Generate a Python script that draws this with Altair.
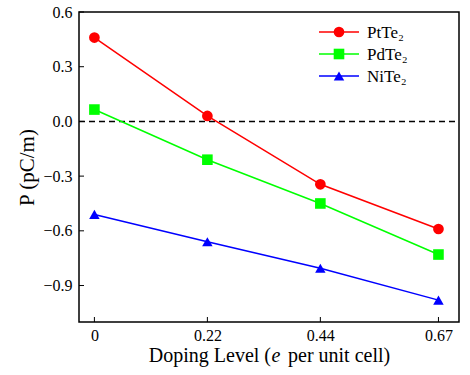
import altair as alt
import pandas as pd

doping = [0, 0.22, 0.44, 0.67]
pt_te2 = [0.46, 0.03, -0.345, -0.59]
pd_te2 = [0.065, -0.21, -0.45, -0.73]
ni_te2 = [-0.51, -0.66, -0.805, -0.98]
series_names = ["PtTe₂", "PdTe₂", "NiTe₂"]
series_colors = ["#ff0000", "#00ff00", "#0000ff"]
series_shapes = ["circle", "square", "triangle-up"]
series_sizes = [115, 110, 210]
y_ticks = [0.6, 0.3, 0.0, -0.3, -0.6, -0.9]
x_ticks = [0, 0.22, 0.44, 0.67]
zero_ref = [0.0]
x_title_parts = ["Doping Level (", "e", "per unit cell)"]

rows = []
for name, vals in zip(series_names, [pt_te2, pd_te2, ni_te2]):
    for x, v in zip(doping, vals):
        rows.append({"doping": x, "P": v, "series": name})
df = pd.DataFrame(rows)

FONT = "Liberation Serif"
W, H = 380, 310

xscale = alt.Scale(domain=[-0.03, 0.71], nice=False, zero=False)
yscale = alt.Scale(domain=[-1.1, 0.6], nice=False, zero=False)
color = alt.Color("series:N", scale=alt.Scale(domain=series_names, range=series_colors), legend=None)
shape = alt.Shape("series:N", scale=alt.Scale(domain=series_names, range=series_shapes), legend=None)
size = alt.Size("series:N", scale=alt.Scale(domain=series_names, range=series_sizes), legend=None)

base = alt.Chart(df)
lines = base.mark_line(strokeWidth=1.5).encode(
    x=alt.X("doping:Q", scale=xscale,
            axis=alt.Axis(values=x_ticks, ticks=False, grid=False, domain=False,
                          labelExpr="datum.value == 0 ? '0' : format(datum.value, '.2f')",
                          labelPadding=5, title=None)),
    y=alt.Y("P:Q", scale=yscale,
            axis=alt.Axis(values=y_ticks, format=".1f", ticks=False, grid=False, domain=False,
                          labelPadding=7, title="P (pC/m)", titlePadding=5, titleFontSize=21)),
    color=color,
    detail="series:N",
)
points = base.mark_point(filled=True, opacity=1).encode(
    x=alt.X("doping:Q", scale=xscale),
    y=alt.Y("P:Q", scale=yscale),
    color=color,
    shape=shape,
    size=size,
)

zero_df = pd.DataFrame({"z": zero_ref})
zero_line = alt.Chart(zero_df).mark_rule(color="black", strokeDash=[6, 4], strokeWidth=1.5).encode(
    y=alt.Y("z:Q", scale=yscale),
    x=alt.value(0), x2=alt.value(W),
)

xt_df = pd.DataFrame({"t": x_ticks})
x_tick_marks = alt.Chart(xt_df).mark_rule(color="black", strokeWidth=1).encode(
    x=alt.X("t:Q", scale=xscale),
    y=alt.value(H - 5), y2=alt.value(H),
)
yt_df = pd.DataFrame({"t": y_ticks})
y_tick_marks = alt.Chart(yt_df).mark_rule(color="black", strokeWidth=1).encode(
    y=alt.Y("t:Q", scale=yscale),
    x=alt.value(0), x2=alt.value(5),
)

leg_df = pd.DataFrame({"series": series_names, "ly": [20, 42, 64]})
leg_base = alt.Chart(leg_df)
leg_lines = leg_base.mark_rule(strokeWidth=1.5).encode(
    x=alt.value(240), x2=alt.value(280),
    y=alt.Y("ly:Q", scale=None),
    color=color,
)
leg_pts = leg_base.mark_point(filled=True, opacity=1).encode(
    x=alt.value(260),
    y=alt.Y("ly:Q", scale=None),
    color=color, shape=shape, size=size,
)
leg_text = leg_base.mark_text(align="left", baseline="middle", font=FONT, fontSize=17, dx=0, dy=1).encode(
    x=alt.value(288),
    y=alt.Y("ly:Q", scale=None),
    text="series:N",
    color=alt.value("black"),
)

# x-axis title with italic e
TY = H + 40
t_df = pd.DataFrame({"t": [0]})
title_a = alt.Chart(t_df).mark_text(align="right", baseline="alphabetic", font=FONT, fontSize=20,
                                    text=x_title_parts[0], color="black").encode(
    x=alt.value(192), y=alt.value(TY))
title_b = alt.Chart(t_df).mark_text(align="center", baseline="alphabetic", font=FONT, fontSize=20,
                                    fontStyle="italic", text=x_title_parts[1], color="black").encode(
    x=alt.value(197), y=alt.value(TY))
title_c = alt.Chart(t_df).mark_text(align="left", baseline="alphabetic", font=FONT, fontSize=20,
                                    text=x_title_parts[2], color="black").encode(
    x=alt.value(209), y=alt.value(TY))

chart = alt.layer(
    zero_line, lines, points, x_tick_marks, y_tick_marks, leg_lines, leg_pts, leg_text,
    title_a, title_b, title_c
).properties(
    width=W, height=H,
    autosize=alt.AutoSizeParams(type="none"),
    padding={"left": 79, "top": 12, "right": 11, "bottom": 53},
    background="white",
).configure_view(
    stroke="black", strokeWidth=1.5
).configure_axis(
    labelFont=FONT, titleFont=FONT, labelFontSize=16, titleFontSize=20,
    labelColor="black", titleColor="black", titleFontWeight="normal",
)

chart.save("out.html", embed_options={"renderer": "svg", "actions": False})
